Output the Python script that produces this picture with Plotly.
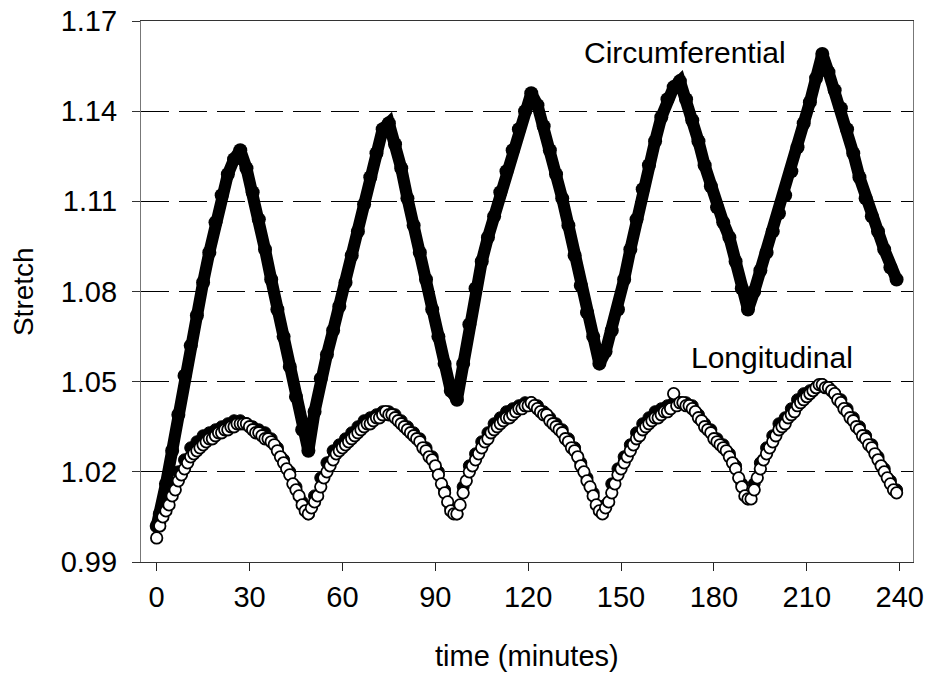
import plotly.graph_objects as go

# ---------------- data ----------------
# Circumferential stretch (sampled every 2 min, starting with t=0)
time_circ = [0] + list(range(1, 240, 2))
circ = [1.002,
    1.006, 1.016, 1.027, 1.039, 1.052, 1.062, 1.072, 1.083, 1.093, 1.103,
    1.112, 1.119, 1.124, 1.127, 1.121, 1.113, 1.104, 1.094, 1.084, 1.074,
    1.065, 1.055, 1.045, 1.034, 1.027, 1.040, 1.051, 1.059, 1.067, 1.075,
    1.083, 1.092, 1.100, 1.109, 1.118, 1.126, 1.134, 1.136, 1.129, 1.121,
    1.111, 1.102, 1.093, 1.084, 1.074, 1.065, 1.056, 1.047, 1.044, 1.056,
    1.069, 1.081, 1.090, 1.098, 1.105, 1.113, 1.120, 1.127, 1.134, 1.140,
    1.146, 1.142, 1.135, 1.127, 1.119, 1.111, 1.102, 1.092, 1.082, 1.073,
    1.065, 1.056, 1.060, 1.067, 1.074, 1.084, 1.094, 1.104, 1.114, 1.122,
    1.130, 1.138, 1.144, 1.148, 1.150, 1.144, 1.137, 1.130, 1.122, 1.115,
    1.108, 1.103, 1.098, 1.090, 1.081, 1.074, 1.080, 1.087, 1.093, 1.100,
    1.106, 1.112, 1.120, 1.128, 1.136, 1.143, 1.151, 1.159, 1.153, 1.147,
    1.141, 1.134, 1.126, 1.118, 1.111, 1.105, 1.100, 1.094, 1.088, 1.084]

# Longitudinal stretch, filled markers (sampled every 2 min, odd minutes)
time_long_b = list(range(1, 240, 2))
long_b = [
    1.003, 1.010, 1.015, 1.020, 1.024, 1.028, 1.030, 1.032, 1.033, 1.034,
    1.035, 1.036, 1.037, 1.037, 1.036, 1.035, 1.034, 1.033, 1.031, 1.028,
    1.024, 1.020, 1.015, 1.010, 1.006, 1.012, 1.018, 1.023, 1.027, 1.029,
    1.031, 1.033, 1.035, 1.037, 1.038, 1.039, 1.040, 1.040, 1.039, 1.037,
    1.035, 1.033, 1.031, 1.028, 1.025, 1.020, 1.014, 1.008, 1.006, 1.015,
    1.022, 1.026, 1.030, 1.033, 1.036, 1.038, 1.040, 1.041, 1.042, 1.043,
    1.043, 1.042, 1.040, 1.038, 1.036, 1.034, 1.031, 1.028, 1.023, 1.018,
    1.013, 1.008, 1.009, 1.016, 1.021, 1.025, 1.029, 1.033, 1.036, 1.038,
    1.040, 1.041, 1.042, 1.043, 1.043, 1.043, 1.042, 1.039, 1.036, 1.034,
    1.031, 1.029, 1.026, 1.022, 1.016, 1.011, 1.016, 1.023, 1.028, 1.032,
    1.036, 1.038, 1.041, 1.044, 1.046, 1.047, 1.048, 1.049, 1.048, 1.046,
    1.044, 1.041, 1.038, 1.035, 1.032, 1.029, 1.025, 1.021, 1.017, 1.014]

# Longitudinal stretch, open markers (sampled every minute)
time_long_w = list(range(0, 240))
long_w = [
    0.998, 1.002, 1.005, 1.007, 1.009, 1.012, 1.014, 1.017, 1.019, 1.021,
    1.023, 1.025, 1.026, 1.027, 1.028, 1.029, 1.030, 1.031, 1.031, 1.032,
    1.033, 1.033, 1.034, 1.034, 1.035, 1.035, 1.036, 1.036, 1.036, 1.036,
    1.035, 1.034, 1.033, 1.033, 1.032, 1.031, 1.031, 1.030, 1.029, 1.027,
    1.025, 1.023, 1.021, 1.019, 1.016, 1.014, 1.012, 1.009, 1.007, 1.006,
    1.008, 1.010, 1.012, 1.015, 1.018, 1.020, 1.022, 1.024, 1.026, 1.027,
    1.028, 1.029, 1.030, 1.031, 1.032, 1.033, 1.034, 1.035, 1.036, 1.036,
    1.037, 1.038, 1.038, 1.039, 1.040, 1.039, 1.039, 1.038, 1.037, 1.036,
    1.035, 1.034, 1.033, 1.032, 1.031, 1.030, 1.028, 1.027, 1.025, 1.024,
    1.022, 1.019, 1.016, 1.013, 1.010, 1.007, 1.006, 1.006, 1.009, 1.013,
    1.017, 1.020, 1.022, 1.024, 1.026, 1.028, 1.030, 1.031, 1.033, 1.034,
    1.035, 1.036, 1.037, 1.038, 1.038, 1.039, 1.040, 1.041, 1.041, 1.042,
    1.042, 1.043, 1.042, 1.041, 1.040, 1.039, 1.039, 1.037, 1.036, 1.035,
    1.034, 1.033, 1.031, 1.030, 1.028, 1.027, 1.025, 1.022, 1.020, 1.017,
    1.015, 1.012, 1.009, 1.007, 1.006, 1.008, 1.010, 1.013, 1.016, 1.019,
    1.021, 1.023, 1.025, 1.027, 1.029, 1.031, 1.032, 1.034, 1.035, 1.036,
    1.037, 1.038, 1.038, 1.039, 1.040, 1.040, 1.041, 1.046, 1.042, 1.043,
    1.043, 1.042, 1.042, 1.041, 1.040, 1.038, 1.037, 1.035, 1.034, 1.033,
    1.031, 1.030, 1.029, 1.028, 1.027, 1.025, 1.023, 1.021, 1.018, 1.015,
    1.012, 1.011, 1.011, 1.014, 1.018, 1.021, 1.024, 1.026, 1.028, 1.030,
    1.032, 1.034, 1.035, 1.036, 1.038, 1.039, 1.040, 1.042, 1.043, 1.044,
    1.045, 1.046, 1.047, 1.048, 1.049, 1.049, 1.048, 1.048, 1.047, 1.046,
    1.044, 1.043, 1.041, 1.040, 1.038, 1.037, 1.035, 1.034, 1.032, 1.031,
    1.029, 1.028, 1.026, 1.024, 1.022, 1.020, 1.018, 1.016, 1.014, 1.013]

x_ticks = [0, 30, 60, 90, 120, 150, 180, 210, 240]
y_ticks = [0.99, 1.02, 1.05, 1.08, 1.11, 1.14, 1.17]
y_tick_labels = ["0.99", "1.02", "1.05", "1.08", "1.11", "1.14", "1.17"]

FONT = "Liberation Sans, Arial, sans-serif"

fig = go.Figure()
fig.add_trace(go.Scatter(
    x=time_circ, y=circ, mode="lines+markers",
    line=dict(color="black", width=12),
    marker=dict(color="black", size=14),
    showlegend=False, name="Circumferential"))
fig.add_trace(go.Scatter(
    x=time_long_b, y=long_b, mode="markers",
    marker=dict(color="black", size=12, line=dict(color="black", width=1)),
    showlegend=False, name="Longitudinal (filled)"))
fig.add_trace(go.Scatter(
    x=time_long_w, y=long_w, mode="markers",
    marker=dict(color="white", size=11.5, line=dict(color="black", width=1.8)),
    showlegend=False, name="Longitudinal (open)"))

fig.update_layout(
    width=927, height=675,
    margin=dict(l=141, r=14, t=21, b=113, autoexpand=False),
    paper_bgcolor="white", plot_bgcolor="white",
    font=dict(family=FONT, size=29, color="black"),
    xaxis=dict(
        range=[-5.06, 244.3], tickvals=x_ticks, automargin=False,
        ticks="outside", ticklen=8, tickcolor="#222", tickwidth=1,
        showline=True, linecolor="#333", linewidth=1.2, mirror=True,
        showgrid=False, zeroline=False,
        tickfont=dict(family=FONT, size=29, color="black"),
        ticklabelstandoff=1,
    ),
    yaxis=dict(
        range=[0.99, 1.17], tickvals=y_ticks, ticktext=y_tick_labels,
        automargin=False,
        ticks="outside", ticklen=8, tickcolor="#333", tickwidth=1,
        showline=True, linecolor="#777", linewidth=1.2, mirror=True,
        showgrid=True, gridcolor="black", gridwidth=1, griddash="28px,10px",
        zeroline=False,
        tickfont=dict(family=FONT, size=29, color="black"),
        ticklabelstandoff=9,
    ),
    annotations=[
        dict(text="time (minutes)", xref="paper", yref="paper",
             x=0.5, y=-0.1738, xanchor="center", yanchor="middle",
             showarrow=False, font=dict(family=FONT, size=29, color="black")),
        dict(text="Stretch", xref="paper", yref="paper",
             x=-0.1528, y=0.499, xanchor="center", yanchor="middle",
             textangle=-90, showarrow=False,
             font=dict(family=FONT, size=28, color="black")),
        dict(text="Circumferential", xref="x", yref="y",
             x=170.8, y=1.1594, xanchor="center", yanchor="middle",
             showarrow=False, font=dict(family=FONT, size=30, color="black")),
        dict(text="Longitudinal", xref="x", yref="y",
             x=198.7, y=1.0582, xanchor="center", yanchor="middle",
             showarrow=False, font=dict(family=FONT, size=30, color="black")),
    ],
)

fig.write_html("out.html")
